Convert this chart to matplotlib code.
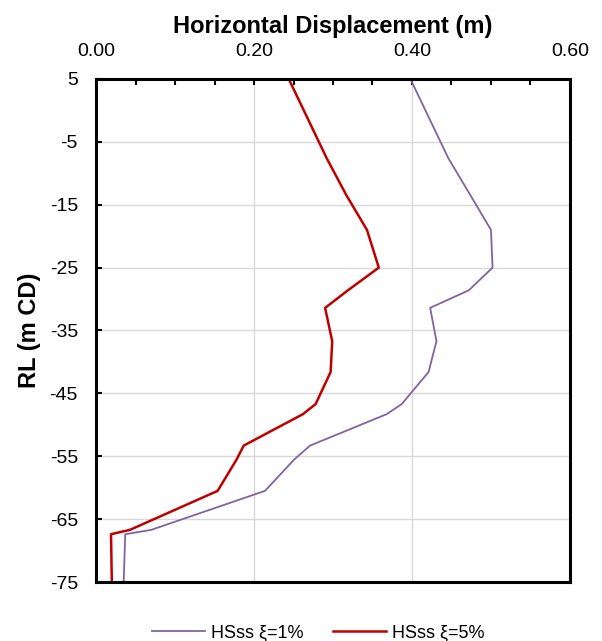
import matplotlib
matplotlib.use("Agg")
import matplotlib.pyplot as plt
from matplotlib.ticker import MultipleLocator, FixedLocator

plt.rcParams['font.family'] = ['Liberation Sans', 'DejaVu Sans']
plt.rcParams['axes.unicode_minus'] = False

depth = [5, -7.6, -13.5, -19, -25, -28.6, -31.4, -36.7, -41.6, -46.7, -48.3,
         -53.3, -55.5, -60.5, -66.7, -67.4, -75]
hs_1 = [0.398, 0.446, 0.474, 0.500, 0.502, 0.472, 0.423, 0.431, 0.421, 0.387, 0.368,
        0.271, 0.251, 0.214, 0.070, 0.037, 0.035]
hs_5 = [0.244, 0.292, 0.317, 0.343, 0.358, 0.319, 0.290, 0.299, 0.297, 0.278, 0.262,
        0.187, 0.178, 0.154, 0.043, 0.019, 0.020]
x_ticks = [0.0, 0.2, 0.4, 0.6]
x_labels = ["0.00", "0.20", "0.40", "0.60"]
y_ticks = [5, -5, -15, -25, -35, -45, -55, -65, -75]

fig = plt.figure(figsize=(6.02, 6.41), dpi=100)
ax = fig.add_axes([0.1595, 0.0920, 0.7873, 0.7848])

ax.plot(hs_1, depth, color='#8064a2', lw=1.3, label='HSss ξ=1%')
ax.plot(hs_5, depth, color='#c00000', lw=1.8, label='HSss ξ=5%')

ax.set_xlim(0, 0.6)
ax.set_ylim(-75, 5)
ax.xaxis.set_major_locator(FixedLocator(x_ticks))
ax.set_xticklabels(x_labels)
ax.xaxis.set_minor_locator(MultipleLocator(0.05))
ax.yaxis.set_major_locator(FixedLocator(y_ticks))
ax.xaxis.tick_top()
ax.xaxis.set_label_position('top')
ax.tick_params(axis='x', which='both', direction='in', length=4, width=1.5,
               labelsize=14, pad=14, top=True, bottom=False)
ax.tick_params(axis='y', which='major', direction='in', length=4, width=1.5,
               labelsize=14, pad=13)
for s in ax.spines.values():
    s.set_linewidth(2.2)

ax.grid(True, which='major', color='#d9d9d9', lw=1.0)
ax.set_axisbelow(True)

ax.set_xlabel('Horizontal Displacement (m)', fontsize=17, fontweight='bold', labelpad=7)
ax.set_ylabel('RL (m CD)', fontsize=17, fontweight='bold', labelpad=6)

fig.legend(loc='center', bbox_to_anchor=(0.529, 1 - 633 / 641), ncol=2, frameon=False,
           fontsize=13, handlelength=2.9, handletextpad=0.35, columnspacing=1.65)

fig.savefig('out.png', dpi=100)
